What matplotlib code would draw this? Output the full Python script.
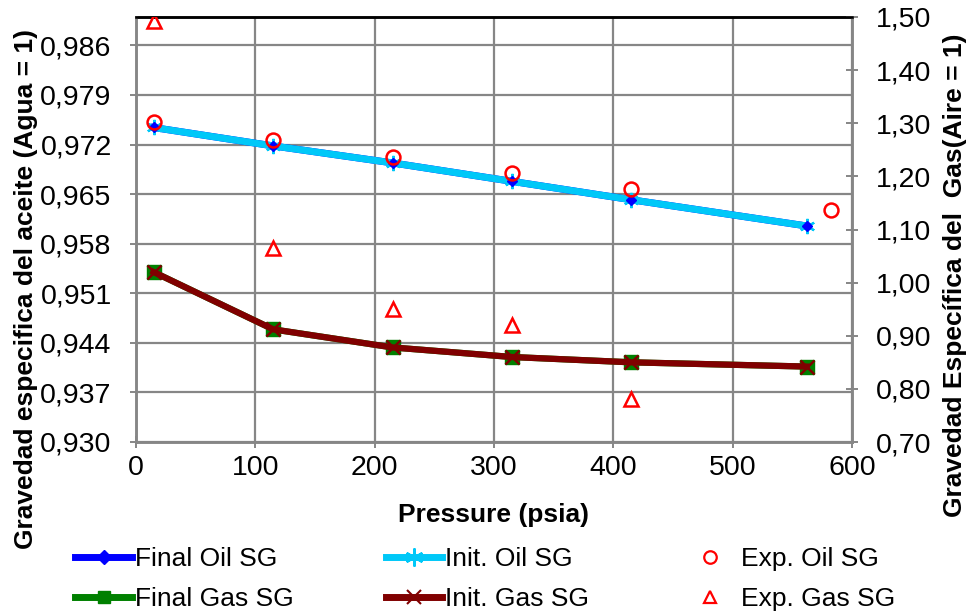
import matplotlib
matplotlib.use("Agg")
import matplotlib.pyplot as plt
from matplotlib.ticker import FixedLocator, FuncFormatter

plt.rcParams["font.family"] = ["Liberation Sans", "DejaVu Sans"]

# simulated points (final / initial), oil on the left axis, gas on the right
pressure = [14.7, 115, 215, 315, 415, 562]
final_oil_sg = [0.9744, 0.9718, 0.9694, 0.9668, 0.9642, 0.9605]
init_oil_sg = [0.9744, 0.9718, 0.9694, 0.9668, 0.9642, 0.9605]
final_gas_sg = [1.020, 0.912, 0.878, 0.860, 0.850, 0.842]
init_gas_sg = [1.020, 0.912, 0.878, 0.860, 0.850, 0.842]

# experimental points
exp_oil_p = [14.7, 115, 215, 315, 415, 582]
exp_oil_sg = [0.9752, 0.9727, 0.9703, 0.9680, 0.9657, 0.9627]
exp_gas_p = [14.7, 115, 215, 315, 415]
exp_gas_sg = [1.493, 1.066, 0.950, 0.921, 0.781]

left_ticks = [0.930, 0.937, 0.944, 0.951, 0.958, 0.965, 0.972, 0.979, 0.986]
right_ticks = [0.70, 0.80, 0.90, 1.00, 1.10, 1.20, 1.30, 1.40, 1.50]
x_ticks = [0, 100, 200, 300, 400, 500, 600]

GRID = "#868686"
CYAN = "#00C8F8"
TICK_FS = 20.5
LABEL_FS = 19
ASTERISK = (6, 2, 0)

fig = plt.figure(figsize=(9.69, 6.15), dpi=100)
ax = fig.add_axes([136 / 969, 1 - 442 / 615, 716 / 969, 425 / 615])
ax2 = ax.twinx()

ax.set_xlim(0, 600)
ax.set_ylim(0.930, 0.990)
ax2.set_ylim(0.70, 1.50)

ax.xaxis.set_major_locator(FixedLocator(x_ticks))
ax.yaxis.set_major_locator(FixedLocator(left_ticks))
ax2.yaxis.set_major_locator(FixedLocator(right_ticks))
ax.yaxis.set_major_formatter(FuncFormatter(lambda v, p: f"{v:.3f}".replace(".", ",")))
ax2.yaxis.set_major_formatter(FuncFormatter(lambda v, p: f"{v:.2f}".replace(".", ",")))

ax.grid(True, color=GRID, lw=1.6, zorder=0)
ax.set_axisbelow(True)
for a in (ax, ax2):
    for side in ("left", "right", "bottom"):
        a.spines[side].set_color(GRID)
        a.spines[side].set_linewidth(1.8)
    a.spines["top"].set_color("black")
    a.spines["top"].set_linewidth(1.8)
    a.tick_params(direction="inout", length=9, width=1.4, color=GRID,
                  labelsize=TICK_FS)
ax.tick_params(axis="y", pad=13)
ax2.tick_params(axis="y", pad=13)
ax.tick_params(axis="x", pad=5)

# oil, left axis
ax.plot(pressure, final_oil_sg, color="#0000FF", lw=5, zorder=3)
ax.plot(pressure, init_oil_sg, color=CYAN, lw=5, marker=ASTERISK, ms=11,
        mec=CYAN, mew=1.6, zorder=4)
ax.plot(pressure, final_oil_sg, ls="none", marker="D", ms=5, color="#0000FF", zorder=5)
ax.plot(exp_oil_p, exp_oil_sg, ls="none", marker="o", ms=10, mfc="none",
        mec="#FF0000", mew=1.8, zorder=6)

# gas, right axis
ax2.plot(pressure, final_gas_sg, color="#008000", lw=4.5, marker="s", ms=10,
         mec="#008000", zorder=3)
ax2.plot(pressure, init_gas_sg, color="#800000", lw=4.5, marker="x", ms=10,
         mew=1.8, zorder=4)
ax2.plot(exp_gas_p, exp_gas_sg, ls="none", marker="^", ms=10, mfc="none",
         mec="#FF0000", mew=1.8, zorder=6)

ax.set_xlabel("Pressure (psia)", fontsize=LABEL_FS, fontweight="bold", labelpad=16)
ax.set_ylabel("Gravedad especifica del aceite (Agua = 1)", fontsize=LABEL_FS,
              fontweight="bold")
ax.yaxis.set_label_coords((38 - 136) / 716, (442 - 289) / 425)
ax2.set_ylabel("Gravedad Específica del  Gas(Aire = 1)", fontsize=LABEL_FS,
               fontweight="bold")
ax2.yaxis.set_label_coords((943 - 136) / 716, (442 - 275) / 425)

# legend handles (column-major fill for 3 columns)
h_final_oil = plt.Line2D([], [], color="#0000FF", lw=5, marker="D", ms=7)
h_init_oil = plt.Line2D([], [], color=CYAN, lw=5, marker=ASTERISK, ms=13, mew=1.6)
h_exp_oil = plt.Line2D([], [], ls="none", marker="o", ms=9, mfc="none", mec="#FF0000", mew=1.6)
h_final_gas = plt.Line2D([], [], color="#008000", lw=5, marker="s", ms=9)
h_init_gas = plt.Line2D([], [], color="#800000", lw=5, marker="x", ms=10, mew=1.5)
h_exp_gas = plt.Line2D([], [], ls="none", marker="^", ms=9, mfc="none", mec="#FF0000", mew=1.6)
handles = [h_final_oil, h_final_gas, h_init_oil, h_init_gas, h_exp_oil, h_exp_gas]
labels = ["Final Oil SG", "Final Gas SG", "Init. Oil SG", "Init. Gas SG",
          "Exp. Oil SG", "Exp. Gas SG"]
fig.legend(handles, labels, ncol=3, loc="upper left",
           bbox_to_anchor=(62 / 969, 1 - 534 / 615), frameon=False,
           fontsize=LABEL_FS, handlelength=2.15, handletextpad=0.1,
           columnspacing=3.5, labelspacing=0.6, borderpad=0)

fig.savefig("out.png", dpi=100)
